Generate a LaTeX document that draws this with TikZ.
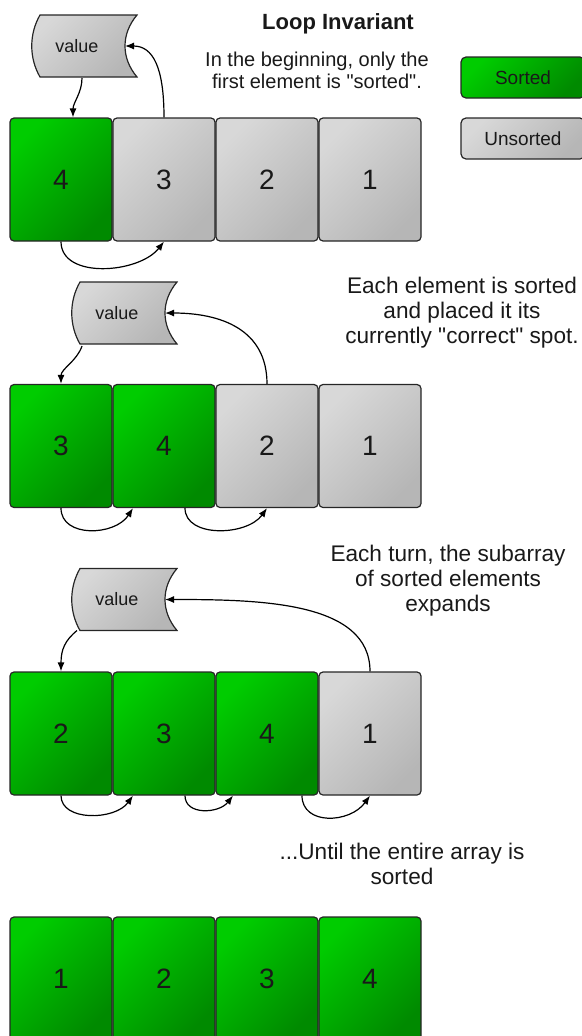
\documentclass[tikz,border=0pt]{standalone}
\usepackage{fontspec}
\setmainfont{Liberation Sans}
\newfontfamily\qfont{Liberation Sans}
\usetikzlibrary{arrows.meta}
\definecolor{gl}{RGB}{0,204,0}
\definecolor{gd}{RGB}{0,138,0}
\definecolor{al}{RGB}{216,216,216}
\definecolor{ad}{RGB}{182,182,182}
\definecolor{edge}{RGB}{38,38,38}
\definecolor{txt}{RGB}{25,25,25}
\newcommand\valueshape[1]{%
  \draw[valstyle] ([shift={(-37pt,31pt)}]#1) -- ([shift={(60pt,31pt)}]#1)
    .. controls ([shift={(44pt,12pt)}]#1) and ([shift={(44pt,-12pt)}]#1) .. ([shift={(60pt,-31pt)}]#1)
    -- ([shift={(-37pt,-31pt)}]#1)
    .. controls ([shift={(-48pt,-12pt)}]#1) and ([shift={(-48pt,12pt)}]#1) .. cycle;}
\newcommand\sq{{\qfont\symbol{34}}}
\begin{document}
\begin{tikzpicture}[x=1pt,y=1pt,
  cell/.style={rectangle, rounded corners=4pt, draw=edge, line width=1.2pt,
    minimum width=102pt, minimum height=123pt, inner sep=0pt,
    font=\fontsize{28}{30}\selectfont, text=txt},
  srt/.style={cell, top color=gl, bottom color=gd, shading angle=45},
  uns/.style={cell, top color=al, bottom color=ad, shading angle=45},
  legend/.style={rectangle, rounded corners=5pt, draw=edge, line width=1.2pt,
    minimum width=124pt, minimum height=41pt, inner sep=0pt,
    font=\fontsize{19}{20}\selectfont, text=txt},
  valstyle/.style={draw=edge, line width=1.2pt, top color=al, bottom color=ad, shading angle=45},
  valtext/.style={inner sep=0pt, font=\fontsize{18}{20}\selectfont, text=txt},
  note/.style={align=center, font=\fontsize{20}{22}\selectfont, text=txt},
  bignote/.style={align=center, font=\fontsize{22.6}{25}\selectfont, text=txt},
  conn/.style={line width=1.2pt, draw=black, -{Latex[length=9pt,width=7pt]}}
]
\useasboundingbox (0,0) rectangle (581,-1036);

% title and notes
\node[font=\bfseries\fontsize{22}{24}\selectfont, text=txt] (title) at (338,-24) {Loop Invariant};
\node[note] (n1) at (317,-70) {In the beginning, only the\\first element is \sq sorted\sq.};
\node[bignote] (n2) at (462,-313) {Each element is sorted\\and placed it its\\currently \sq correct\sq{} spot.};
\node[bignote] (n3) at (448,-581) {Each turn, the subarray\\of sorted elements\\expands};
\node[bignote] (n4) at (402,-864) {...Until the entire array is\\sorted};

% legend
\node[legend, top color=gl, bottom color=gd, shading angle=45] (lsorted) at (523,-77.5) {Sorted};
\node[legend, top color=al, bottom color=ad, shading angle=45] (lunsorted) at (523,-138.5) {Unsorted};

% row 1
\node[srt] (a1) at (61,-179.5) {4};
\node[uns] (a2) at (164,-179.5) {3};
\node[uns] (a3) at (267,-179.5) {2};
\node[uns] (a4) at (370,-179.5) {1};
\coordinate (v1c) at (77,-46);
\valueshape{v1c}
\node[valtext] (v1) at (v1c) {value};
\draw[conn] ([shift={(5pt,-32pt)}]v1.center) .. controls +(0,-15) and +(0,15) .. ([xshift=12pt]a1.north);
\draw[conn] (a2.north) .. controls +(0,50) and +(28,0) .. ([xshift=48pt]v1.center);
\draw[conn] (a1.south) .. controls +(0,-38) and +(-25,-32) .. (a2.south);

% row 2
\node[srt] (b1) at (61,-446) {3};
\node[srt] (b2) at (164,-446) {4};
\node[uns] (b3) at (267,-446) {2};
\node[uns] (b4) at (370,-446) {1};
\coordinate (v2c) at (117,-313);
\valueshape{v2c}
\node[valtext] (v2) at (v2c) {value};
\draw[conn] ([shift={(-35pt,-33pt)}]v2.center) .. controls +(-5,-15) and +(0,15) .. (b1.north);
\draw[conn] (b3.north) .. controls +(0,55) and +(55,0) .. ([xshift=48pt]v2.center);
\draw[conn] (b1.south) .. controls +(0,-30) and +(-18,-28) .. ([xshift=-31pt]b2.south);
\draw[conn] ([xshift=21pt]b2.south) .. controls +(0,-30) and +(-20,-28) .. (b3.south);

% row 3
\node[srt] (c1) at (61,-733.5) {2};
\node[srt] (c2) at (164,-733.5) {3};
\node[srt] (c3) at (267,-733.5) {4};
\node[uns] (c4) at (370,-733.5) {1};
\coordinate (v3c) at (117,-599.5);
\valueshape{v3c}
\node[valtext] (v3) at (v3c) {value};
\draw[conn] ([shift={(-40pt,-31pt)}]v3.center) .. controls +(-12,-10) and +(0,22) .. (c1.north);
\draw[conn] (c4.north) .. controls +(0,70) and +(95,0) .. ([xshift=48pt]v3.center);
\draw[conn] (c1.south) .. controls +(0,-26) and +(-18,-25) .. ([xshift=-31pt]c2.south);
\draw[conn] ([xshift=21pt]c2.south) .. controls +(0,-20) and +(-14,-18) .. ([xshift=-34pt]c3.south);
\draw[conn] ([xshift=35pt]c3.south) .. controls +(0,-30) and +(-20,-28) .. (c4.south);

% row 4
\node[srt] (d1) at (61,-978.5) {1};
\node[srt] (d2) at (164,-978.5) {2};
\node[srt] (d3) at (267,-978.5) {3};
\node[srt] (d4) at (370,-978.5) {4};
\end{tikzpicture}
\end{document}
